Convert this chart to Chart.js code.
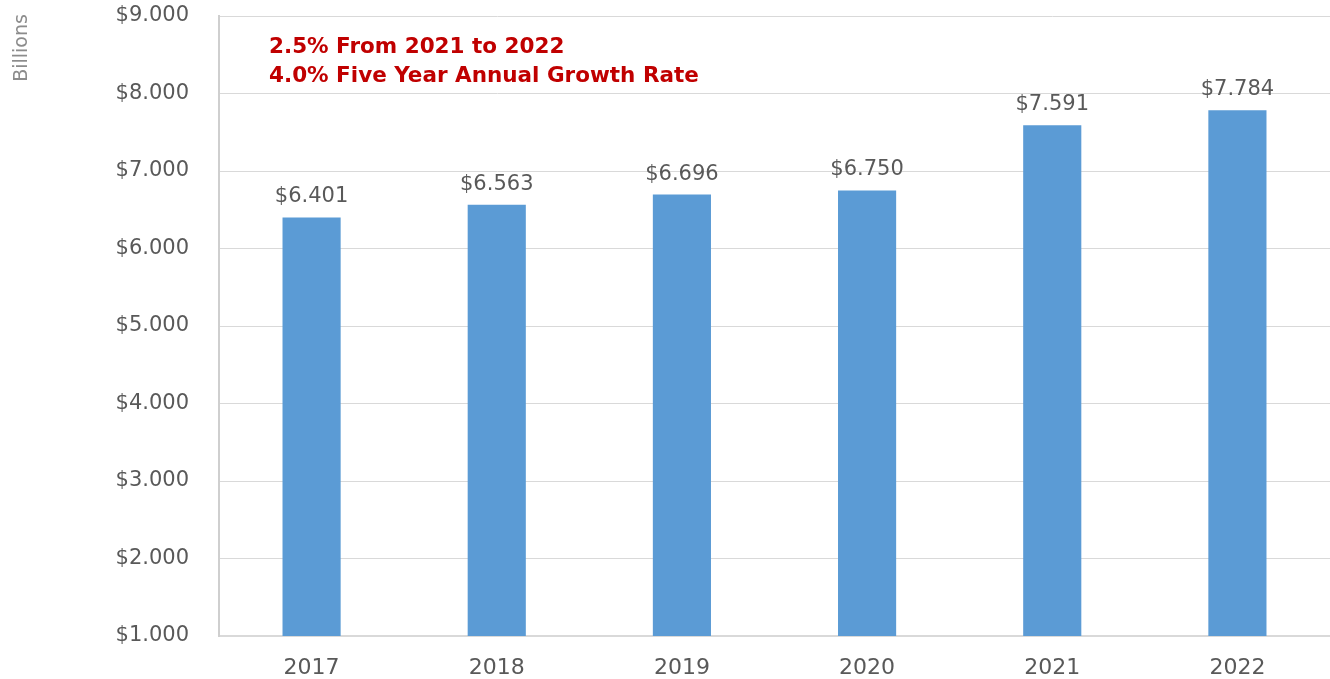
<!DOCTYPE html>
<html lang="en">
<head>
    <meta charset="UTF-8">
    <title>Billions by Year</title>
    <script src="https://cdn.jsdelivr.net/npm/chart.js"></script>
    <style>
        body {
            margin: 0;
            background: #ffffff;
            overflow: hidden;
        }
        .chart-box {
            width: 1330px;
            height: 679px;
            position: relative;
        }
    </style>
</head>
<body>
    <div class="chart-box">
        <canvas id="growthChart"></canvas>
    </div>

    <script>
        // values (billions, shown with "." as thousands mark)
        const years = ["2017", "2018", "2019", "2020", "2021", "2022"];
        const amounts = [6401, 6563, 6696, 6750, 7591, 7784];
        const yMin = 1000;
        const yMax = 9000;
        const yStep = 1000;
        const notes = ["2.5% From 2021 to 2022", "4.0% Five Year Annual Growth Rate"];
        const axisName = "Billions";

        const money = (v) => "$" + Math.floor(v / 1000) + "." + String(Math.round(v % 1000)).padStart(3, "0");

        const GREY = "#595959";

        // value labels above bars, red notes, and the rotated unit label
        const extraText = {
            id: "extraText",
            afterDatasetsDraw(chart) {
                const ctx = chart.ctx;
                const meta = chart.getDatasetMeta(0);
                ctx.save();
                ctx.fillStyle = GREY;
                ctx.font = "21px 'DejaVu Sans'";
                ctx.textAlign = "center";
                ctx.textBaseline = "alphabetic";
                meta.data.forEach((bar, i) => {
                    ctx.fillText(money(amounts[i]), bar.x, bar.y - 15);
                });

                ctx.fillStyle = "#C00000";
                ctx.font = "bold 21.5px 'DejaVu Sans'";
                ctx.textAlign = "left";
                ctx.fillText(notes[0], 269, 53);
                ctx.fillText(notes[1], 269, 82);

                ctx.translate(22, 48);
                ctx.rotate(-Math.PI / 2);
                ctx.fillStyle = "#8c8c8c";
                ctx.font = "19px 'DejaVu Sans'";
                ctx.textAlign = "center";
                ctx.textBaseline = "middle";
                ctx.fillText(axisName, 0, 0);
                ctx.restore();
            }
        };

        new Chart(document.getElementById("growthChart"), {
            type: "bar",
            data: {
                labels: years,
                datasets: [{
                    data: amounts,
                    backgroundColor: "#5B9BD5",
                    categoryPercentage: 1,
                    barPercentage: 0.314
                }]
            },
            options: {
                responsive: true,
                maintainAspectRatio: false,
                animation: false,
                layout: { padding: { top: 16, right: 0, bottom: 0, left: 0 } },
                plugins: {
                    legend: { display: false },
                    tooltip: { enabled: false }
                },
                scales: {
                    x: {
                        afterFit(scale) { scale.height = 43; },
                        grid: { display: false },
                        border: { display: true, color: "#d9d9d9", width: 2 },
                        ticks: {
                            color: GREY,
                            font: { family: "DejaVu Sans", size: 22 },
                            padding: 11
                        }
                    },
                    y: {
                        min: yMin,
                        max: yMax,
                        afterFit(scale) {
                            scale.width = 219;
                            scale.paddingTop = 0;
                            scale.paddingBottom = 0;
                        },
                        grid: { color: "#d9d9d9", drawTicks: false },
                        border: { display: true, color: "#cfcfcf", width: 2 },
                        ticks: {
                            stepSize: yStep,
                            color: GREY,
                            font: { family: "DejaVu Sans", size: 21 },
                            padding: 30,
                            callback: (v) => money(v)
                        }
                    }
                }
            },
            plugins: [extraText]
        });
    </script>
</body>
</html>
